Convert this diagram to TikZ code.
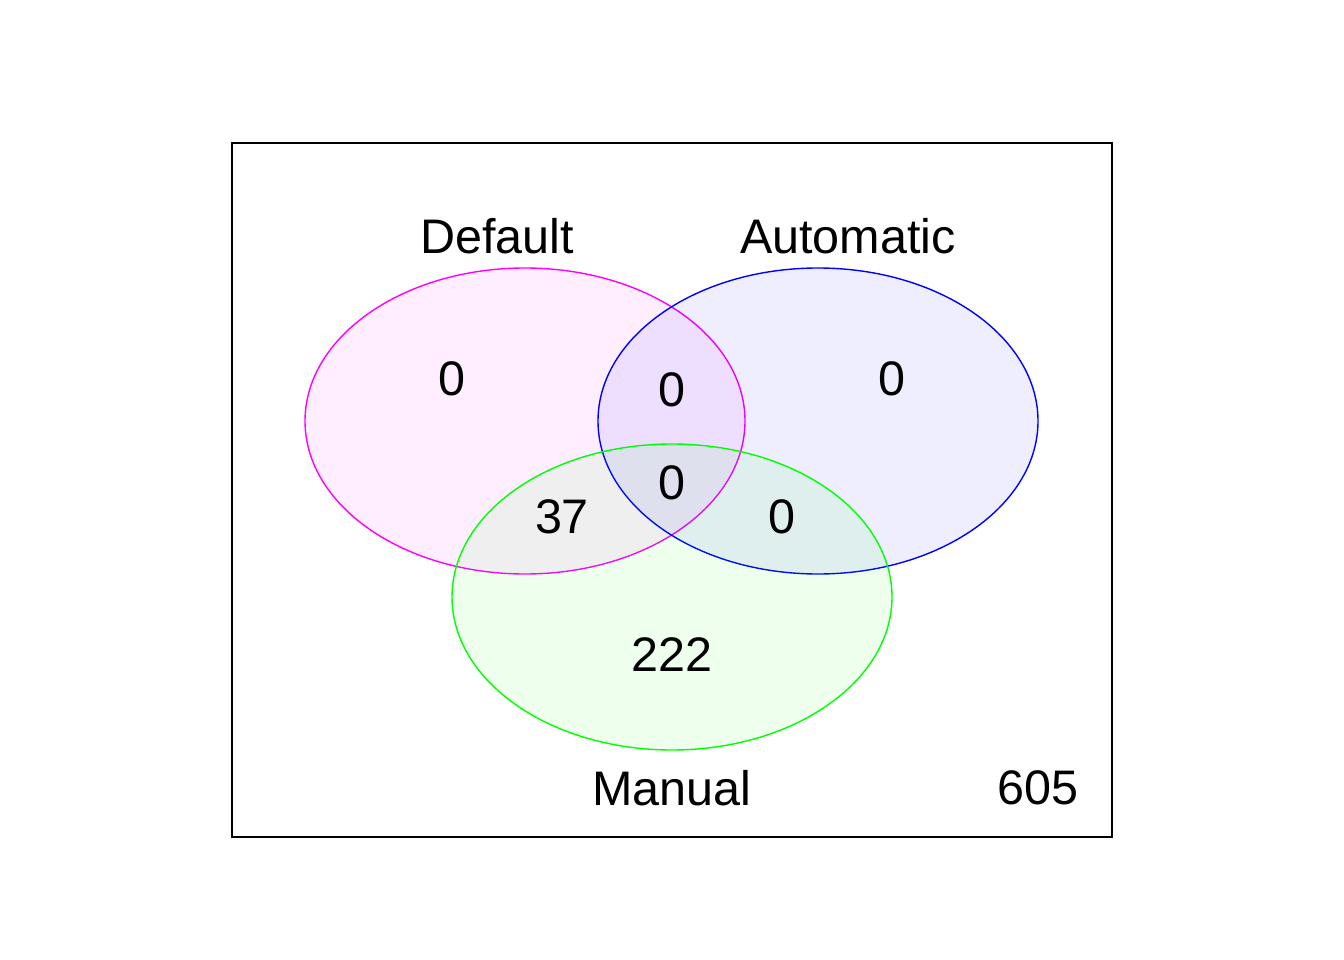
\documentclass[tikz,border=0pt]{standalone}
\usepackage{fontspec}
\setmainfont{Liberation Sans}
\definecolor{setmag}{RGB}{255,0,255}
\definecolor{setblue}{RGB}{0,0,255}
\definecolor{setgreen}{RGB}{0,255,0}
\tikzset{
  setline/.style={line width=1.4pt, fill opacity=0.065},
  lbl/.style={font=\fontsize{48.5}{52}\selectfont, inner sep=0pt}
}
\begin{document}
\begin{tikzpicture}[x=1pt, y=-1pt]
  \useasboundingbox (0,0) rectangle (1344,960);
  % universe
  \draw[line width=1.4pt] (232,143) rectangle (1112,837);
  % sets
  \draw[setline, draw=setmag, fill=setmag] (525,421) ellipse [x radius=220pt, y radius=153pt];
  \draw[setline, draw=setblue, fill=setblue] (818,421) ellipse [x radius=220pt, y radius=153pt];
  \draw[setline, draw=setgreen, fill=setgreen] (672,597) ellipse [x radius=220pt, y radius=153pt];
  % names
  \node[lbl] (default) at (497,236) {Default};
  \node[lbl] (automatic) at (848,236) {Automatic};
  \node[lbl] (manual) at (672,788) {Manual};
  \node[lbl] (rest) at (1038,788) {605};
  % counts
  \node[lbl] (d) at (452,379) {0};
  \node[lbl] (da) at (672,390) {0};
  \node[lbl] (a) at (892,379) {0};
  \node[lbl] (dam) at (672,483) {0};
  \node[lbl] (dm) at (562,517) {37};
  \node[lbl] (am) at (782,517) {0};
  \node[lbl] (m) at (672,655) {222};
\end{tikzpicture}
\end{document}
